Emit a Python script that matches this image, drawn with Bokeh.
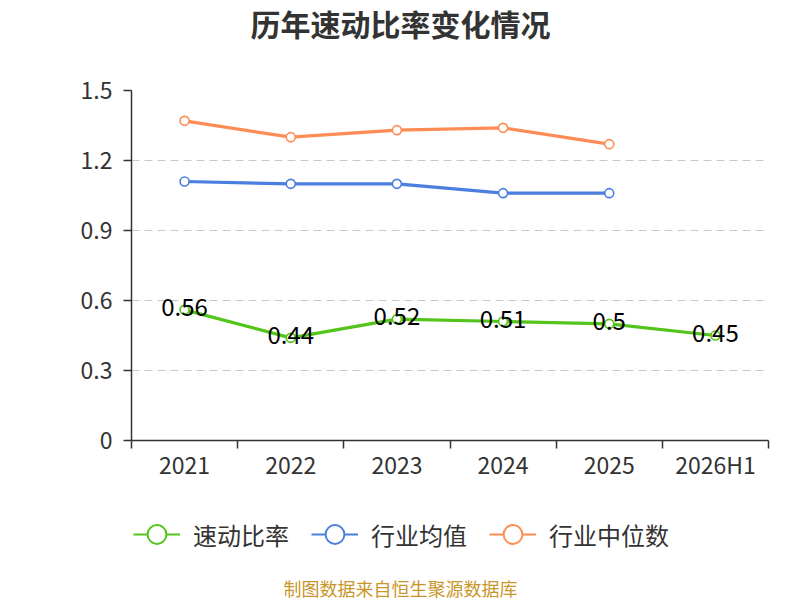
from bokeh.core.properties import value
from bokeh.embed import file_html
from bokeh.layouts import column
from bokeh.models import ColumnDataSource, FixedTicker, Label, Legend, LegendItem, Range1d
from bokeh.plotting import figure
from bokeh.resources import INLINE

years = ["2021", "2022", "2023", "2024", "2025", "2026H1"]
quick_ratio = [0.56, 0.44, 0.52, 0.51, 0.50, 0.45]
industry_mean = [1.11, 1.10, 1.10, 1.06, 1.06]
industry_median = [1.37, 1.30, 1.33, 1.34, 1.27]
y_ticks = [0, 0.3, 0.6, 0.9, 1.2, 1.5]

FONT = "Noto Sans CJK SC"
GREEN = "#52c41a"
BLUE = "#4a7fe0"
ORANGE = "#ff8c55"

series = [
    ("速动比率", quick_ratio, GREEN),
    ("行业均值", industry_mean, BLUE),
    ("行业中位数", industry_median, ORANGE),
]


def blank(height):
	# bare strip without axes; the column lines its frame up with the chart's frame
	f = figure(width=800, height=height, output_backend="svg", toolbar_location=None,
		x_range=Range1d(-0.5, len(years) - 0.5), y_range=Range1d(2, 3))
	f.axis.visible = False
	f.grid.grid_line_color = None
	f.outline_line_color = None
	f.min_border = 0
	return f


xs = list(range(len(years)))

# title strip
head = blank(70)
head.add_layout(Label(x=269, y=48, x_units="screen", y_units="screen", text="历年速动比率变化情况",
                      text_align="center", text_baseline="middle", text_font=FONT,
                      text_font_size="30px", text_font_style="bold", text_color="#333333"))

# main chart
p = figure(width=800, height=420, output_backend="svg", toolbar_location=None,
           x_range=Range1d(-0.5, len(years) - 0.5), y_range=Range1d(0, 1.5))
p.min_border_left = 131
p.min_border_right = 32
p.min_border_top = 20
p.min_border_bottom = 50
p.outline_line_color = None

p.xaxis.ticker = FixedTicker(ticks=xs, minor_ticks=[x - 0.5 for x in xs] + [len(years) - 0.5])
p.xaxis.major_label_overrides = {x: y for x, y in zip(xs, years)}
p.xaxis.major_tick_out = 0
p.xaxis.major_tick_in = 0
p.xaxis.minor_tick_out = 8
p.xaxis.minor_tick_in = 0
p.xaxis.major_label_standoff = -2
p.yaxis.ticker = FixedTicker(ticks=y_ticks)
p.yaxis.major_label_overrides = {0: "0"}
p.yaxis.major_tick_out = 8
p.yaxis.major_tick_in = 0
p.yaxis.minor_tick_out = 0
p.yaxis.minor_tick_in = 0
p.yaxis.major_label_standoff = 11
for ax in (p.xaxis, p.yaxis):
    ax.axis_line_color = "#333333"
    ax.axis_line_width = 1.5
    ax.major_tick_line_color = "#333333"
    ax.major_tick_line_width = 1.5
    ax.minor_tick_line_color = "#333333"
    ax.minor_tick_line_width = 1.5
    ax.major_label_text_font = FONT
    ax.major_label_text_font_size = "23px"
    ax.major_label_text_color = "#333333"

p.xgrid.grid_line_color = None
p.ygrid.ticker = FixedTicker(ticks=y_ticks[1:])
p.ygrid.grid_line_color = "#c8c8c8"
p.ygrid.grid_line_dash = "8 5"
p.ygrid.grid_line_width = 1.2

for name, vals, color in series:
    src = ColumnDataSource(dict(x=xs[:len(vals)], y=vals))
    p.line("x", "y", source=src, line_color=color, line_width=3.2)
    p.scatter("x", "y", source=src, marker="circle", size=9,
              fill_color="white", line_color=color, line_width=1.6)

lab_src = ColumnDataSource(dict(x=xs, y=quick_ratio, t=[f"{v:g}" for v in quick_ratio]))
p.text("x", "y", text="t", source=lab_src, text_align="center", text_baseline="middle",
       y_offset=-3, text_color="black", text_font=value(FONT), text_font_size="24px")

# legend + source strip (series drawn here fall outside the strip's y range)
foot = blank(110)
items = []
for name, vals, color in series:
    src = ColumnDataSource(dict(x=xs[:len(vals)], y=vals))
    ln = foot.line("x", "y", source=src, line_color=color, line_width=2)
    sc = foot.scatter("x", "y", source=src, marker="circle", fill_color="white",
                      line_color=color, line_width=2)
    items.append(LegendItem(label=name, renderers=[ln, sc]))

legend = Legend(items=items, location=(2, 41), orientation="horizontal")
legend.padding = 0
legend.margin = 0
legend.spacing = 22
legend.glyph_width = 47
legend.glyph_height = 50
legend.label_standoff = 13
legend.label_text_font = FONT
legend.label_text_font_size = "24px"
legend.label_text_color = "#333333"
legend.border_line_color = None
legend.background_fill_alpha = 0
foot.add_layout(legend, "center")

foot.add_layout(Label(x=269, y=13, x_units="screen", y_units="screen", text="制图数据来自恒生聚源数据库",
                      text_align="center", text_baseline="middle", text_font=FONT,
                      text_font_size="18px", text_color="#c9962b"))

page = column(head, p, foot, spacing=0)
open("out.html", "w").write(file_html(page, INLINE))
